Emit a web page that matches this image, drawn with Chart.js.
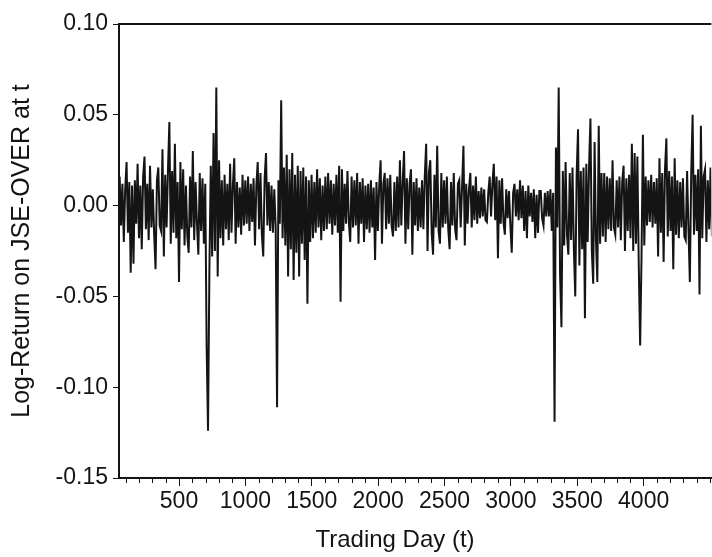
<!DOCTYPE html>
<html>
<head>
<meta charset="utf-8">
<script src="https://cdn.jsdelivr.net/npm/chart.js@4/dist/chart.umd.min.js"></script>
<style>
  html, body { margin: 0; padding: 0; background: #fff; overflow: hidden; }
  canvas { display: block; }
</style>
</head>
<body>
<canvas id="returnsChart" width="712" height="557"></canvas>
<script>
// Daily log-returns on the JSE overall index, one reading every ~10 trading days
const firstDay = 53;
const dayStep = 10.4;
const logReturn = [
  0.016, -0.011, 0.012, -0.020, 0.009, 0.024, -0.015, 0.013, -0.037, 0.011,
  -0.032, 0.014, -0.010, 0.023, -0.018, 0.011, -0.024, 0.016, 0.027, -0.013,
  0.012, -0.019, 0.022, -0.012, 0.009, -0.016, -0.035, 0.014, 0.021, -0.011,
  -0.014, 0.031, -0.028, 0.017, -0.012, 0.020, 0.046, -0.021, 0.019, -0.015,
  0.034, -0.018, 0.013, -0.042, 0.024, -0.013, 0.020, -0.022, 0.011, -0.017,
  -0.026, 0.016, -0.012, 0.030, -0.019, 0.013, -0.010, -0.027, 0.018, -0.014,
  0.015, -0.021, 0.012, -0.078, -0.124, -0.035, 0.022, -0.028, 0.040, -0.025,
  0.065, -0.039, 0.025, -0.018, 0.014, -0.022, 0.017, -0.013, 0.012, -0.019,
  0.023, -0.015, 0.011, 0.026, -0.021, 0.013, -0.012, 0.010, -0.016, 0.017,
  -0.011, 0.014, -0.010, 0.016, -0.014, 0.012, -0.009, 0.015, -0.022, 0.011,
  0.024, -0.013, 0.018, -0.016, -0.028, 0.015, 0.029, -0.011, 0.013, -0.014,
  0.011, -0.015, 0.009, -0.012, -0.111, 0.014, -0.010, 0.058, -0.018, 0.021,
  -0.022, 0.028, -0.039, 0.020, -0.024, 0.029, -0.041, 0.017, -0.026, 0.022,
  -0.039, 0.019, -0.021, 0.021, -0.030, 0.016, -0.054, 0.014, -0.020, 0.017,
  -0.018, 0.013, -0.015, 0.020, -0.012, 0.015, -0.019, 0.011, -0.014, 0.016,
  -0.013, 0.018, -0.010, 0.014, -0.016, 0.012, -0.011, 0.017, -0.015, 0.022,
  -0.053, 0.020, -0.014, 0.012, -0.010, 0.019, -0.009, -0.020, 0.016, -0.012,
  0.014, -0.011, 0.018, -0.021, 0.013, -0.010, 0.015, -0.020, 0.011, -0.013,
  0.012, -0.015, 0.014, -0.012, 0.010, -0.030, 0.013, -0.014, 0.011, 0.025,
  -0.021, 0.012, 0.018, -0.013, 0.015, -0.010, 0.017, -0.011, -0.017, 0.013,
  -0.014, 0.016, -0.012, 0.025, -0.011, 0.013, 0.030, -0.021, 0.015, -0.013,
  0.012, 0.020, -0.027, 0.013, -0.011, 0.015, -0.014, 0.010, -0.012, 0.014,
  -0.013, 0.016, 0.034, -0.025, 0.018, 0.025, -0.015, -0.027, 0.017, -0.012,
  0.033, -0.014, -0.021, 0.018, -0.012, 0.014, -0.010, 0.016, -0.013, -0.024,
  0.013, -0.011, 0.018, -0.013, -0.019, 0.012, 0.014, -0.012, 0.010, 0.033,
  -0.022, 0.012, -0.010, 0.009, 0.018, -0.012, 0.011, -0.008, 0.016, -0.010,
  0.008, -0.007, 0.010, -0.006, 0.009, -0.008, -0.009, 0.007, 0.016, -0.006,
  0.012, 0.023, -0.008, 0.016, -0.029, 0.014, -0.010, 0.015, -0.009, -0.016,
  0.009, -0.007, 0.008, -0.011, -0.026, 0.007, 0.012, -0.006, 0.009, -0.008,
  0.014, -0.007, 0.011, -0.014, 0.008, -0.018, 0.011, -0.006, 0.007, -0.009,
  0.009, -0.018, 0.006, -0.015, 0.008, 0.008, -0.007, -0.011, 0.007, -0.006,
  0.008, -0.006, 0.009, -0.014, 0.007, -0.119, 0.032, -0.012, 0.065, -0.038,
  -0.067, 0.019, -0.022, 0.024, -0.016, -0.027, 0.018, -0.019, 0.021, -0.024,
  -0.050, 0.017, 0.042, -0.033, 0.019, -0.024, 0.021, -0.062, 0.023, -0.020,
  0.022, 0.048, -0.025, -0.043, 0.035, -0.019, -0.042, 0.044, -0.021, 0.018,
  -0.017, 0.018, -0.020, 0.016, -0.013, 0.015, -0.014, 0.025, -0.012, -0.016,
  0.014, -0.012, 0.016, -0.019, 0.013, 0.022, -0.025, 0.015, -0.014, 0.017,
  -0.018, 0.034, -0.025, 0.029, -0.021, 0.027, -0.033, -0.077, -0.028, 0.039,
  -0.022, 0.016, -0.011, 0.014, -0.009, 0.017, -0.012, 0.013, -0.010, 0.015,
  -0.028, 0.026, -0.015, 0.018, -0.031, 0.020, 0.037, -0.017, 0.019, -0.014,
  0.016, -0.035, 0.026, -0.016, 0.014, -0.018, 0.013, -0.012, 0.015, -0.017,
  -0.019, 0.019, -0.013, -0.042, 0.018, 0.050, -0.016, 0.017, -0.014, 0.020,
  -0.049, 0.044, -0.018, 0.016, 0.020, -0.020, 0.014, -0.013, 0.021, -0.017
];

// Axis ranges and labelled ticks
const dayRange = [48, 4510];
const dayMinorStep = 100;
const dayLabels = [500, 1000, 1500, 2000, 2500, 3000, 3500, 4000];
const returnRange = [-0.15, 0.10];
const returnStep = 0.05;

const xTitle = 'Trading Day (t)';
const yTitle = 'Log-Return on JSE-OVER at t';

const ink = '#141414';
const fontFamily = "'Liberation Sans', Arial, Helvetica, sans-serif";

const points = logReturn.map((r, i) => ({ x: firstDay + i * dayStep, y: r }));

// Top frame line, short unlabelled day ticks and the day-axis caption
const frameAndMinorTicks = {
  id: 'frameAndMinorTicks',
  afterDraw(chart) {
    const { ctx, chartArea: a, scales: { x } } = chart;
    ctx.save();
    ctx.strokeStyle = ink;
    ctx.lineWidth = 2;
    ctx.beginPath();
    ctx.moveTo(a.left - 1, a.top);
    ctx.lineTo(a.right, a.top);
    ctx.stroke();
    ctx.lineWidth = 1;
    ctx.beginPath();
    x.ticks.forEach(t => {
      if (t.value % dayMinorStep !== 0 || dayLabels.includes(t.value)) return;
      const px = Math.round(x.getPixelForValue(t.value)) + 0.5;
      ctx.moveTo(px, a.bottom);
      ctx.lineTo(px, a.bottom + 5);
    });
    ctx.stroke();
    ctx.fillStyle = ink;
    ctx.font = '24px ' + fontFamily;
    ctx.textAlign = 'center';
    ctx.textBaseline = 'middle';
    ctx.fillText(xTitle, 395, 540);
    ctx.restore();
  }
};

new Chart(document.getElementById('returnsChart'), {
  type: 'line',
  data: {
    datasets: [{
      data: points,
      borderColor: ink,
      borderWidth: 2,
      pointRadius: 0,
      tension: 0,
      fill: false
    }]
  },
  options: {
    responsive: false,
    animation: false,
    events: [],
    layout: { padding: { top: 24, left: 0, right: 0, bottom: 0 } },
    plugins: { legend: { display: false }, tooltip: { enabled: false } },
    scales: {
      x: {
        type: 'linear',
        min: dayRange[0],
        max: dayRange[1],
        afterFit(scale) { scale.height = 79; },
        border: { display: true, color: ink, width: 2 },
        grid: {
          display: true,
          drawOnChartArea: false,
          drawTicks: true,
          tickLength: 8,
          tickWidth: 1,
          tickColor: c => (c.tick && dayLabels.includes(c.tick.value)) ? ink : 'rgba(0,0,0,0)'
        },
        ticks: {
          stepSize: dayMinorStep,
          includeBounds: false,
          autoSkip: false,
          maxRotation: 0,
          padding: 2,
          color: ink,
          font: { family: fontFamily, size: 23 },
          callback: v => dayLabels.includes(v) ? String(v) : ''
        },
        title: { display: false }
      },
      y: {
        min: returnRange[0],
        max: returnRange[1],
        afterFit(scale) { scale.width = 119; },
        border: { display: true, color: ink, width: 2 },
        grid: {
          display: true,
          drawOnChartArea: false,
          drawTicks: true,
          tickLength: 6,
          tickColor: ink
        },
        ticks: {
          stepSize: returnStep,
          padding: 5,
          color: ink,
          font: { family: fontFamily, size: 23 },
          callback: v => (Math.abs(v) < 1e-9 ? 0 : v).toFixed(2)
        },
        title: {
          display: true,
          text: yTitle,
          color: ink,
          font: { family: fontFamily, size: 25 },
          padding: { top: 7, bottom: 0 }
        }
      }
    }
  },
  plugins: [frameAndMinorTicks]
});
</script>
</body>
</html>
